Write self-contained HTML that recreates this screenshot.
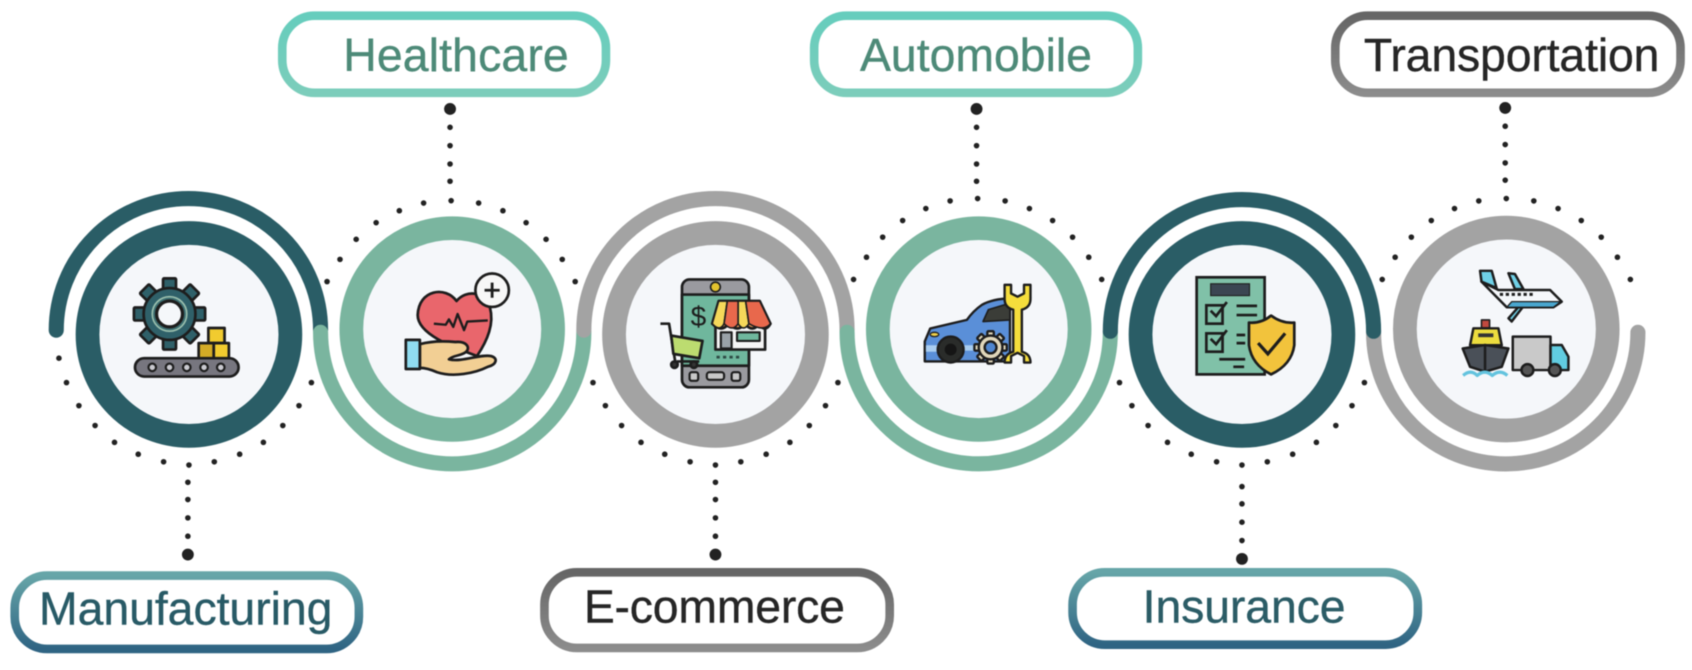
<!DOCTYPE html>
<html><head><meta charset="utf-8"><style>
html,body{margin:0;padding:0;background:#fff;width:1692px;height:670px;overflow:hidden}
svg{display:block;filter:blur(.5px)}
text{font-family:"Liberation Sans",sans-serif}
</style></head><body>
<svg width="1692" height="670" viewBox="0 0 1568 621" xmlns="http://www.w3.org/2000/svg">
<defs>
<linearGradient id="gM" x1="0" y1="0" x2="0" y2="1"><stop offset="0" stop-color="#66a5a8"/><stop offset="1" stop-color="#2f6483"/></linearGradient>
<linearGradient id="gH" x1="0" y1="0" x2="0" y2="1"><stop offset="0" stop-color="#66cdbd"/><stop offset="1" stop-color="#7ccdbb"/></linearGradient>
<linearGradient id="gG" x1="0" y1="0" x2="0" y2="1"><stop offset="0" stop-color="#666"/><stop offset="1" stop-color="#8c8c8c"/></linearGradient>
<g id="top" fill="#222">
<circle cx="0" cy="0" r="2.6"/>
<circle cx="-25.5" cy="2.2" r="2.6"/><circle cx="25.5" cy="2.2" r="2.6"/>
<circle cx="-48" cy="9.3" r="2.6"/><circle cx="48" cy="9.3" r="2.6"/>
<circle cx="-69.5" cy="20.4" r="2.6"/><circle cx="69.5" cy="20.4" r="2.6"/>
<circle cx="-88" cy="35.8" r="2.6"/><circle cx="88" cy="35.8" r="2.6"/>
<circle cx="-103" cy="54.4" r="2.6"/><circle cx="103" cy="54.4" r="2.6"/>
<circle cx="-115" cy="75" r="2.6"/><circle cx="115" cy="75" r="2.6"/>
</g>
<g id="bot" fill="#222">
<circle cx="0" cy="0" r="2.6"/>
<circle cx="-23.5" cy="-3" r="2.6"/><circle cx="23.5" cy="-3" r="2.6"/>
<circle cx="-47" cy="-10" r="2.6"/><circle cx="47" cy="-10" r="2.6"/>
<circle cx="-69" cy="-21" r="2.6"/><circle cx="69" cy="-21" r="2.6"/>
<circle cx="-87" cy="-36.6" r="2.6"/><circle cx="87" cy="-36.6" r="2.6"/>
<circle cx="-102" cy="-55" r="2.6"/><circle cx="102" cy="-55" r="2.6"/>
<circle cx="-113.5" cy="-76.4" r="2.6"/><circle cx="113.5" cy="-76.4" r="2.6"/>
</g>
<g id="vdots" fill="#222">
<circle cx="0" cy="0" r="5.5"/><circle cx="0" cy="17" r="2.6"/><circle cx="0" cy="34" r="2.6"/><circle cx="0" cy="51" r="2.6"/><circle cx="0" cy="67" r="2.6"/>
</g>
</defs>

<!-- dotted arcs -->
<use href="#top" x="418" y="186"/><use href="#top" x="906" y="184"/><use href="#top" x="1396" y="184"/>
<use href="#bot" x="175" y="431"/><use href="#bot" x="663" y="431"/><use href="#bot" x="1151" y="431"/>
<circle cx="54.5" cy="332" r="2.6" fill="#222"/>

<!-- connectors -->
<use href="#vdots" x="417" y="101"/><use href="#vdots" x="905" y="101"/><use href="#vdots" x="1395" y="100"/>
<use href="#vdots" x="174" y="514" transform="rotate(180 174 514)"/>
<use href="#vdots" x="663" y="514" transform="rotate(180 663 514)"/>
<use href="#vdots" x="1151" y="518" transform="rotate(180 1151 518)"/>

<!-- outer arcs -->
<g fill="none" stroke-width="14" stroke-linecap="round">
<path d="M52 306A122.500 122 0 0 1 297 306" stroke="#2a5d66"/>
<path d="M297 308A122 122 0 0 0 541 308" stroke="#7ab59f"/>
<path d="M541 306A122 122 0 0 1 785 306" stroke="#a3a3a3"/>
<path d="M785 308A122 122 0 0 0 1029 308" stroke="#7ab59f"/>
<path d="M1273 308A122.500 122 0 0 0 1518 308" stroke="#a3a3a3"/>
<path d="M1029 307A122 122 0 0 1 1273 307" stroke="#2a5d66"/>
</g>

<!-- rings -->
<g stroke-width="22">
<circle cx="175" cy="310" r="94" fill="#f5f7fa" stroke="#2a5d66"/>
<circle cx="419" cy="305" r="93.500" fill="#f5f7fa" stroke="#7ab59f"/>
<circle cx="663" cy="310" r="94" fill="#f5f7fa" stroke="#a3a3a3"/>
<circle cx="907" cy="305" r="93.500" fill="#f5f7fa" stroke="#7ab59f"/>
<circle cx="1151" cy="310" r="94" fill="#f5f7fa" stroke="#2a5d66"/>
<circle cx="1396" cy="305" r="94" fill="#f5f7fa" stroke="#a3a3a3"/>
</g>

<!-- labels -->
<g fill="#fff" stroke-width="8">
<rect x="261.500" y="14.500" width="300" height="71.500" rx="30" stroke="url(#gH)"/>
<rect x="754.500" y="14.500" width="300" height="71.500" rx="30" stroke="url(#gH)"/>
<rect x="1237.500" y="14.500" width="320" height="71.500" rx="30" stroke="url(#gG)"/>
<rect x="13.500" y="533.500" width="319" height="68" rx="30" stroke="url(#gM)"/>
<rect x="504.500" y="530.500" width="320" height="70" rx="30" stroke="url(#gG)"/>
<rect x="994" y="530.500" width="320" height="67" rx="30" stroke="url(#gM)"/>
</g>
<g font-size="43" stroke-width=".35">
<text x="318" y="66" fill="#4d8a78" stroke="#4d8a78" textLength="209">Healthcare</text>
<text x="797" y="66" fill="#4d8a78" stroke="#4d8a78" textLength="215">Automobile</text>
<text x="1264" y="66" fill="#262626" stroke="#262626" textLength="274">Transportation</text>
<text x="36" y="579" fill="#285a66" stroke="#285a66" textLength="272">Manufacturing</text>
<text x="541" y="577" fill="#262626" stroke="#262626" textLength="242">E-commerce</text>
<text x="1059" y="577" fill="#2b5c66" stroke="#2b5c66" textLength="188">Insurance</text>
</g>

<!-- icon 1: gear & conveyor -->
<g stroke="#1d1d1d" stroke-width="2.5" stroke-linejoin="round">
<g fill="#2f6069">
<rect x="151" y="258" width="12" height="66" rx="1"/>
<rect x="151" y="258" width="12" height="66" rx="1" transform="rotate(45 157 291)"/>
<rect x="151" y="258" width="12" height="66" rx="1" transform="rotate(90 157 291)"/>
<rect x="151" y="258" width="12" height="66" rx="1" transform="rotate(135 157 291)"/>
<circle cx="157" cy="291" r="24"/>
</g>
<circle cx="157" cy="291" r="16" fill="#3c6f72" stroke="#9cc0ae" stroke-width="1.500"/>
<circle cx="157" cy="291" r="12" fill="#f5f7fa" stroke-width="3"/>
<rect x="125" y="332" width="96" height="17" rx="8.500" fill="#77767f"/>
<g fill="#c9c9cf" stroke-width="2">
<circle cx="141" cy="340.500" r="3.500"/><circle cx="157" cy="340.500" r="3.500"/><circle cx="173" cy="340.500" r="3.500"/><circle cx="189" cy="340.500" r="3.500"/><circle cx="204.500" cy="340.500" r="3.500"/>
</g>
<rect x="193" y="304" width="15" height="14" fill="#f1cb2f"/>
<rect x="184" y="318" width="14" height="14" fill="#d3ab26"/>
<rect x="198" y="318" width="14" height="14" fill="#f1cb2f"/>
</g>

<!-- icon 2: heart -->
<g stroke="#1d1d1d" stroke-width="2.500" stroke-linejoin="round">
<path d="M423 279C413 265 388 268 387 292C387 310 420 322 442 330C452 315 458 300 454 285C450 270 432 268 423 279Z" fill="#e9666c"/>
<polyline points="402,300 413,301 416,296 420,303 424,291 430,306 433,298 452,297" fill="none" stroke-width="2.200"/>
<circle cx="456" cy="269" r="15.500" fill="#f7f7f7"/>
<path d="M456 262v14M449 269h14" stroke-width="2.600" fill="none"/>
<path d="M389 319C400 316 412 316 422 317C432 316 436 322 432 326C428 330 420 329 416 333C428 336 445 328 455 330C462 332 460 338 452 340C440 346 420 350 405 345C398 342 394 341 389 341Z" fill="#f2cf94"/>
<rect x="376" y="315" width="13" height="27" fill="#90dcf0"/>
</g>

<!-- icon 3: phone & shop -->
<g stroke="#1d1d1d" stroke-width="2.500" stroke-linejoin="round">
<rect x="632" y="259" width="62" height="100" rx="7" fill="#9a9a9f"/>
<rect x="632" y="273" width="62" height="66" fill="#6fb79d"/>
<circle cx="663" cy="266" r="4.500" fill="#e3c22e" stroke-width="1.500"/>
<rect x="639" y="345" width="8" height="8" rx="2" fill="#c8c8c8" stroke-width="2"/>
<rect x="655" y="345" width="16" height="7" rx="2.500" fill="#c8c8c8" stroke-width="2"/>
<rect x="678" y="345" width="8" height="8" rx="2" fill="#c8c8c8" stroke-width="2"/>
<text x="640" y="302" font-size="26" fill="#1d1d1d" stroke="none">$</text>
<rect x="663" y="300" width="46" height="24" fill="#f5f5f5"/>
<rect x="668" y="308" width="10" height="15" fill="#9aa2a8" stroke-width="2"/>
<rect x="683" y="308" width="21" height="8" fill="#6fb79d" stroke-width="2"/>
<path d="M666 279H704L714 300Q709 309 703 300Q698 309 690 300Q684 309 675 300Q669 309 660 300Z" fill="#f7a05a"/>
<path d="M666 279H674L671 300Q667 308 660 300ZM684 279H691L694 300Q689 308 684 300Z" fill="#f5d85a" stroke-width="1.500"/>
<path d="M674 279H684V300Q679 308 671 300ZM691 279H704L714 300Q708 308 694 300Z" fill="#e8684c" stroke-width="1.500"/>
<path d="M612 300H620L626 337" fill="none"/>
<path d="M622 311L651 316L648 332L624 328Z" fill="#bcdc70"/>
<path d="M627 335H648" fill="none"/>
<circle cx="625" cy="338" r="3" fill="#333"/><circle cx="643" cy="338" r="3" fill="#333"/>
<path d="M664 331h3M670 331h3M676 331h3M682 331h3" stroke-width="2.500" fill="none" stroke="#2e4a44"/>
</g>

<!-- icon 4: car & wrench -->
<g stroke="#1d1d1d" stroke-width="2.200" stroke-linejoin="round">
<path d="M857 335V316.500L862 304.500L896 296.500Q902 288 910 282.500Q920 277 936 276.500V335Z" fill="#5a8fd8"/>
<path d="M911 298L916 287L936 281V296.500Z" fill="#3b3d38" stroke-width="1.500"/>
<rect x="858" y="320" width="12" height="6" fill="#a9cdf0" stroke-width="0"/>
<rect x="893" y="320" width="12" height="5" fill="#a9cdf0" stroke-width="0"/>
<ellipse cx="866" cy="310" rx="4" ry="2" fill="#f0d04a" stroke-width="1.200"/>
<circle cx="881" cy="324" r="12" fill="#2a2c2a"/>
<circle cx="881" cy="324" r="5.500" fill="#151515" stroke-width="0"/>
<path d="M931 264V277Q931 285 939 287V326Q931 328 931 336H937V330L943 327L949 330V336H955Q955 328 947 326V287Q955 285 955 277V264H949V272L943 275L937 272V264Z" fill="#f5dd3c"/>
<g fill="#e0d7bb">
<rect x="915" y="307" width="6" height="30" rx="1"/>
<rect x="915" y="307" width="6" height="30" rx="1" transform="rotate(45 918 322)"/>
<rect x="915" y="307" width="6" height="30" rx="1" transform="rotate(90 918 322)"/>
<rect x="915" y="307" width="6" height="30" rx="1" transform="rotate(135 918 322)"/>
<circle cx="918" cy="322" r="11"/>
</g>
<circle cx="918" cy="322" r="5.500" fill="#4f86cf"/>
</g>

<!-- icon 5: doc & shield -->
<g stroke="#1d1d1d" stroke-width="2.500" stroke-linejoin="miter">
<rect x="1109" y="257" width="63" height="90" fill="#80c1a8"/>
<rect x="1122" y="263" width="36" height="11" fill="#3b4652" stroke-width="1"/>
<rect x="1118" y="283" width="15" height="17" fill="none"/>
<path d="M1122 288L1127 293L1137 280" fill="none"/>
<rect x="1118" y="309" width="15" height="17" fill="none"/>
<path d="M1122 314L1127 319L1137 306" fill="none"/>
<path d="M1146 283.500H1165M1146 292H1165M1146 310.500H1154M1146 318H1154M1130 333H1154M1143 340H1153" fill="none"/>
<path d="M1178 292.500Q1188 300 1199.500 299V320Q1197 338 1178 347Q1160 338 1157.500 320V299Q1169 300 1178 292.500Z" fill="#f2c33c" stroke-linejoin="round"/>
<path d="M1166 318L1175 328L1191 309" fill="none" stroke-width="3"/>
</g>

<!-- icon 6: plane, ship, truck -->
<g stroke="#1d1d1d" stroke-width="2.300" stroke-linejoin="round">
<path d="M1408.800 282.700L1398 295L1401 298L1411 285Z" fill="#6fd0e6"/>
<path d="M1373 261L1388.700 268.800H1436.600L1447.400 279.600L1439.700 284.800H1396.400Z" fill="#f5f7fa"/>
<path d="M1401 279.600H1446.500L1439.700 284.800H1396.400Z" fill="#4aa7cf" stroke-width="1.200"/>
<path d="M1371.700 251H1382.500L1387 267L1373 261Z" fill="#6fd0e6"/>
<path d="M1398 253.300L1404 254L1411.900 268H1404Z" fill="#6fd0e6"/>
<path d="M1390 272.800H1421" stroke-dasharray="3 2.500" fill="none" stroke-width="2.800"/>
<rect x="1373" y="296.500" width="7.500" height="7.500" fill="#c0493f" stroke-width="1.500"/>
<path d="M1362.400 320L1365.500 304.300H1388.700L1391.800 320Z" fill="#ecdc3e"/>
<rect x="1370" y="309" width="14" height="3.500" fill="#333" stroke-width="0"/>
<path d="M1355.600 323L1376.300 319.800L1398 323L1391.800 340L1376.300 344.500L1362.400 340Z" fill="#4a5058"/>
<path d="M1376.300 320V344.500" fill="none"/>
<path d="M1356 348Q1363 342 1369 348Q1376 342 1383 348Q1390 342 1397 348" fill="none" stroke="#63c3de" stroke-width="3"/>
<rect x="1402" y="312" width="35" height="31" fill="#c9c9c9"/>
<path d="M1437 319.800H1447.400L1453.600 330.600V343H1437Z" fill="#61cce0"/>
<circle cx="1415.600" cy="343" r="5.500" fill="#555"/>
<circle cx="1441" cy="343" r="5.500" fill="#555"/>
</g>
</svg>
</body></html>
